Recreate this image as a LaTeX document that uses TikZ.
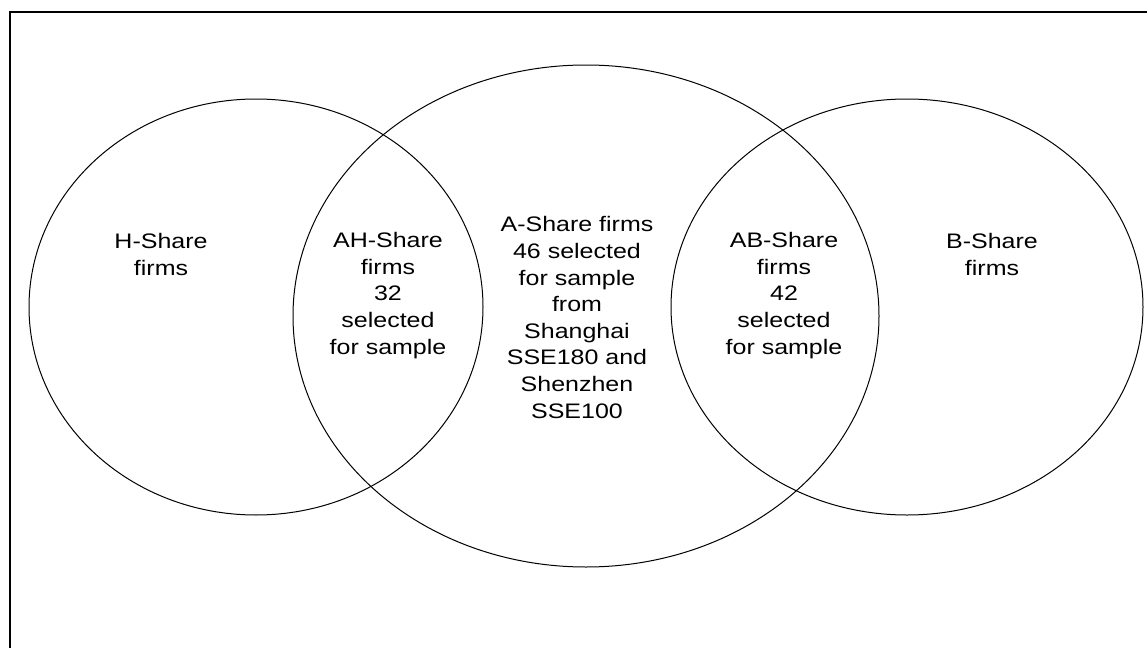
\documentclass[tikz,border=0pt]{standalone}
\usepackage{fontspec}
\setmainfont{Liberation Sans}[FakeStretch=1.19]

\begin{document}
\begin{tikzpicture}[x=0.5pt, y=-0.5pt, line width=0.5pt,
    setname/.style={align=center, anchor=base, font=\fontsize{10.5}{13.3}\selectfont}]
  \useasboundingbox (0,0) rectangle (1147,648);
  \clip (0,0) rectangle (1147,648);
  \draw[line width=1pt] (10,12) rectangle (1170,670);
  \draw (256,307) ellipse [x radius=227, y radius=208];
  \draw (586,316) ellipse [x radius=293, y radius=251];
  \draw (907,307) ellipse [x radius=236, y radius=208];
  \node[setname] (hshare) at (161,275) {H-Share\\firms};
  \node[setname] (ahshare) at (388,354) {AH-Share\\firms\\32\\selected\\for sample};
  \node[setname] (ashare) at (577,418) {A-Share firms\\46 selected\\for sample\\from\\Shanghai\\SSE180 and\\Shenzhen\\SSE100};
  \node[setname] (abshare) at (784,354) {AB-Share\\firms\\42\\selected\\for sample};
  \node[setname] (bshare) at (992,275) {B-Share\\firms};
\end{tikzpicture}
\end{document}
